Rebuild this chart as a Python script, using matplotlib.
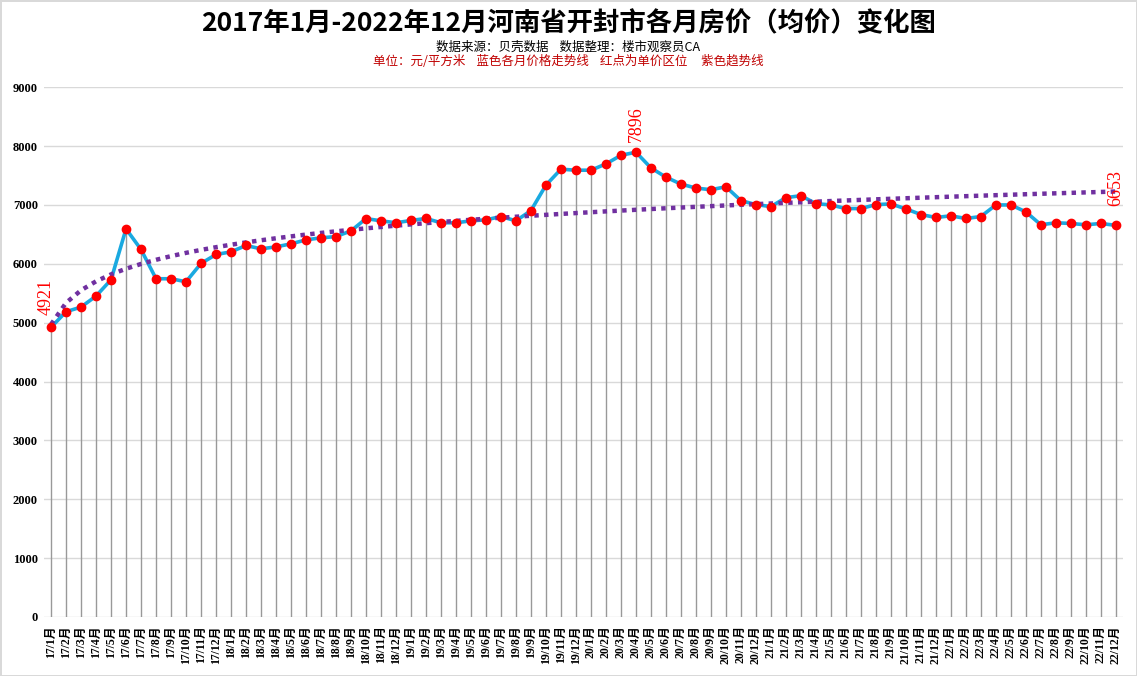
import matplotlib.pyplot as plt
import numpy as np

SERIF = ['Liberation Serif', 'DejaVu Serif', 'Noto Sans CJK SC']
CJK = ['Noto Sans CJK SC', 'DejaVu Sans']
plt.rcParams['font.family'] = SERIF

# monthly labels 17/1 .. 22/12
months = [f"{y}/{m}月" for y in range(17, 23) for m in range(1, 13)]

prices = [
    4921, 5186, 5265, 5452, 5729, 6593, 6243, 5746, 5746, 5695, 6006, 6158,  # 2017
    6203, 6311, 6254, 6288, 6339, 6407, 6441, 6463, 6559, 6768, 6730, 6697,  # 2018
    6736, 6770, 6697, 6697, 6730, 6747, 6803, 6730, 6904, 7337, 7607, 7590,  # 2019
    7590, 7697, 7843, 7896, 7629, 7472, 7354, 7287, 7258, 7309, 7073, 7006,  # 2020
    6972, 7124, 7157, 7022, 7000, 6938, 6938, 7006, 7017, 6933, 6837, 6787,  # 2021
    6815, 6770, 6803, 7000, 7000, 6882, 6663, 6697, 6685, 6663, 6685, 6653,  # 2022
]
# labelled points: index -> label offset (points)
labelled = {0: (-3.6, 8.6), 39: (0, 7.5), 71: (0, 14)}

x = np.arange(len(prices))
y = np.array(prices)

# logarithmic trend line (like Excel's log trendline)
a, b = np.polyfit(np.log(x + 1), y, 1)
trend = a * np.log(x + 1) + b

fig = plt.figure(figsize=(11.37, 6.76), dpi=100, edgecolor='#d9d9d9', linewidth=2)
ax = fig.add_axes([0.0383, 0.0873, 0.9497, 0.7837])

# grid and drop lines
ax.set_axisbelow(True)
ax.grid(axis='y', color='#d9d9d9', linewidth=1)
ax.vlines(x, 0, y, color='#999999', linewidth=1, zorder=1)

ax.plot(x, y, color='#1aa9e0', linewidth=2.6, zorder=2)
ax.plot(x, trend, color='#7030a0', linewidth=3.2, linestyle=(0, (1, 1.2)), zorder=3)
ax.scatter(x, y, color='#ff0000', s=36, zorder=4)

for i, off in labelled.items():
    ax.annotate(str(prices[i]), (x[i], y[i]), xytext=off,
                textcoords='offset points', rotation=90, ha='center', va='bottom',
                color='#ff0000', fontsize=13, family=['Liberation Serif', 'DejaVu Serif'],
                zorder=5)

ax.set_xlim(-0.5, len(prices) - 0.5)
ax.set_ylim(0, 9000)
ax.set_yticks(range(0, 9001, 1000))
ax.set_xticks(x)
ax.set_xticklabels(months, rotation=90, fontsize=8.5, fontweight='bold')
for lbl in ax.get_yticklabels():
    lbl.set_fontweight('bold')
    lbl.set_fontsize(9)
ax.tick_params(length=0, pad=4)
ax.tick_params(axis='x', pad=6)
for s in ax.spines.values():
    s.set_visible(False)

fig.text(0.5, 0.965, '2017年1月-2022年12月河南省开封市各月房价（均价）变化图',
         ha='center', va='center', fontsize=19, fontweight='bold', family=CJK)
fig.text(0.5, 0.930, '数据来源：贝壳数据    数据整理：楼市观察员CA',
         ha='center', va='center', fontsize=9, family=CJK)
fig.text(0.5, 0.909, '单位：元/平方米    蓝色各月价格走势线    红点为单价区位     紫色趋势线',
         ha='center', va='center', fontsize=9, color='#c00000', family=CJK)

fig.savefig('out.png', dpi=100)
